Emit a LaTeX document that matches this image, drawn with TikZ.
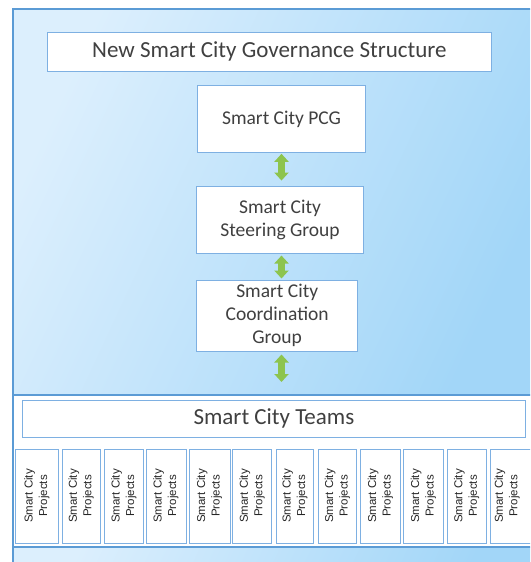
\documentclass[tikz,border=0pt]{standalone}
\usepackage{fontspec}
\setmainfont{Carlito}
\newfontfamily\arialf{Liberation Sans}
\usetikzlibrary{arrows.meta,calc}
\definecolor{frameblue}{HTML}{5B9BD5}
\definecolor{boxblue}{HTML}{7EB0E2}
\definecolor{bgL}{HTML}{DCEFFD}
\definecolor{bgD}{HTML}{A2D6F8}
\definecolor{textgray}{HTML}{404040}
\definecolor{agreen}{HTML}{8DC44E}
\tikzset{
  frameline/.style={draw=frameblue, line width=1.5pt},
  wbox/.style={draw=boxblue, fill=white, line width=1pt, inner sep=0pt, text=textgray, align=center},
  bigtext/.style={font=\fontsize{23}{27}\selectfont},
  midtext/.style={font=\fontsize{19.5}{22.7}\selectfont},
  projbox/.style={draw=boxblue, fill=white, line width=1pt, inner sep=0pt, minimum height=94pt},
  projtext/.style={rotate=90, align=center, inner sep=0pt, text=black!85, font=\arialf\fontsize{11.5}{14.5}\selectfont},
  garrow/.style={line width=6.5pt, draw=agreen, {Triangle[width=14pt,length=8pt]}-{Triangle[width=14pt,length=8pt]}}
}
\begin{document}
\begin{tikzpicture}[x=1pt,y=-1pt]
\useasboundingbox (0,0) rectangle (530,562);
\clip (0,0) rectangle (530,562);
% background panels
\shade[top color=bgL, bottom color=bgD, shading angle=65] (13,9) rectangle (535,395);
\fill[white] (13,395) rectangle (535,547);
\shade[top color=bgL, bottom color=bgD, shading angle=65] (13,547) rectangle (535,570);
\draw[frameline] (535,9) -- (13,9) -- (13,570);
\draw[frameline] (13,395) -- (535,395);
\draw[frameline] (13,547) -- (535,547);
% boxes
\node[wbox, bigtext, minimum width=444.7pt, minimum height=39pt] (title) at (269.4,51.5) {New Smart City Governance Structure};
\node[wbox, midtext, minimum width=168.5pt, minimum height=66.6pt] (pcg) at (281.5,119) {Smart City PCG};
\node[wbox, midtext, minimum width=166.6pt, minimum height=67.3pt] (steer) at (280,219.7) {Smart City\\Steering Group};
\node[wbox, midtext, minimum width=161pt, minimum height=71pt] (coord) at (277.2,315.5) {Smart City\\Coordination\\Group};
\node[wbox, bigtext, minimum width=503.7pt, minimum height=37pt] (teams) at (273.9,418.5) {Smart City Teams};
% arrows
\coordinate (axis) at (281.5,0);
\coordinate (c3) at (281.5,382);
\draw[garrow] ($(pcg.south -| axis)+(0,1)$) -- ($(steer.north -| axis)+(0,-5)$);
\draw[garrow] ($(steer.south -| axis)+(0,1.7)$) -- ($(coord.north -| axis)+(0,-1)$);
\draw[garrow] ($(coord.south -| axis)+(0,3)$) -- (c3);
% projects
\foreach \l/\r [count=\i] in {15.7/58.3, 62.3/100, 104.7/143.3, 146/186, 189/230, 232.7/271.7, 276.7/313.3, 318.3/356.7, 360.7/400, 403.3/443.3, 447.3/486}{
  \node[projbox, minimum width={(\r-\l)*1pt}] (p\i) at ({(\l+\r)/2},496) {};
  \node[projtext] (pt\i) at (p\i) {Smart City\\Projects};
}
\node[projbox, minimum width=42pt] (p12) at (511.7,496) {};
\node[projtext] (pt12) at ($(p12)+(-4.5,0)$) {Smart City\\Projects};
\end{tikzpicture}
\end{document}
